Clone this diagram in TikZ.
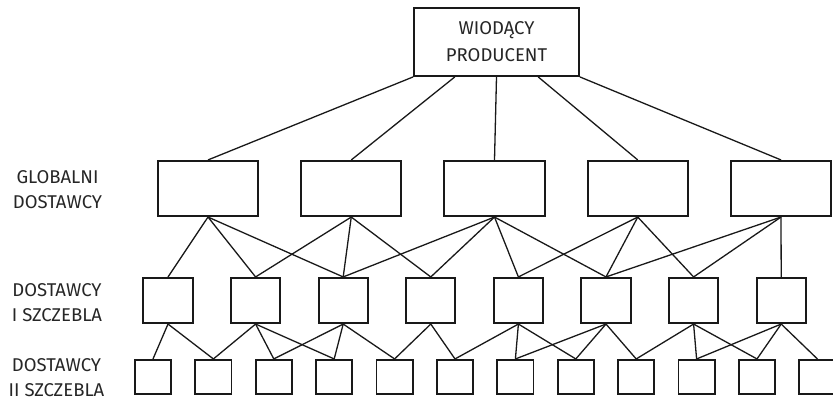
\documentclass[tikz,border=0pt]{standalone}
\usepackage{fontspec}
\setmainfont{Fira Sans}
\usetikzlibrary{calc}

\begin{document}
\begin{tikzpicture}[x=1pt, y=-1pt,
  box/.style={draw=black!90, line width=1.9pt, inner sep=0pt},
  link/.style={draw=black!90, line width=1.3pt},
  level/.style={align=center, text=black!85, font=\fontsize{18.5}{25}\selectfont}]
  \useasboundingbox (0,0) rectangle (833,401);
  \clip (0,0) rectangle (833,401);

  %% Leading producer
  \node[box, minimum width=165pt, minimum height=68pt, align=center, text=black!85,
    font=\fontsize{18.5}{27}\selectfont] (prod) at (496.5,42) {WIODĄCY\\PRODUCENT};

  %% Rows of suppliers
  \foreach \i in {1,...,5}
    \node[box, minimum width=100.2pt, minimum height=55.2pt] (g\i) at ({208+143.25*(\i-1)},188.5) {};
  \foreach \i in {1,...,8}
    \node[box, minimum width=49.2pt, minimum height=45.2pt] (a\i) at ({168+87.6*(\i-1)},300.5) {};
  \foreach \i in {1,...,12}
    \node[box, minimum width=36.2pt, minimum height=34.2pt] (b\i) at ({153+60.4*(\i-1)},377) {};

  %% Row labels
  \node[level] (glob) at (57.5,189.5) {GLOBALNI\\DOSTAWCY};
  \node[level] (tier1) at (57,303) {DOSTAWCY\\I SZCZEBLA};
  \node[level] (tier2) at (56.5,378) {DOSTAWCY\\II SZCZEBLA};

  %% Producer -> global suppliers
  \foreach \i [evaluate=\i as \f using (\i-1)/4] in {1,...,5}
    \draw[link] ($(prod.south west)!\f!(prod.south east)$) -- (g\i.north);

  %% Global suppliers -> tier I
  \foreach \g/\list in {1/{1,2,3}, 2/{2,3,4}, 3/{3,4,5,6}, 4/{5,6,7}, 5/{6,7,8}}
    \foreach \a in \list
      \draw[link] (g\g.south) -- (a\a.north);

  %% Tier I -> tier II
  \foreach \a/\list in {1/{1,2}, 2/{2,3,4}, 3/{3,4,5}, 4/{5,6}, 5/{6,7,8},
                        6/{7,8,9}, 7/{9,10,11}, 8/{10,11,12}}
    \foreach \b in \list
      \draw[link] (a\a.south) -- (b\b.north);
\end{tikzpicture}
\end{document}
